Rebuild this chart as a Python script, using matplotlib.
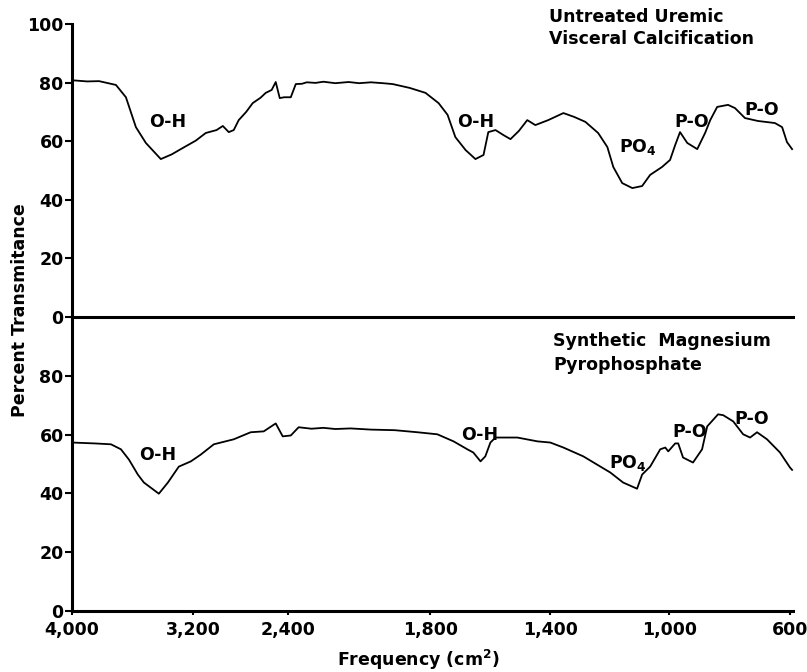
import numpy as np
import matplotlib
matplotlib.use("Agg")
import matplotlib.pyplot as plt

# ---- data ----
wn_top = [4000, 3900, 3821, 3709, 3643, 3577, 3511, 3412, 3340, 3266, 3175, 3091, 3000, 2947,
          2897, 2855, 2813, 2750, 2695, 2630, 2585, 2535, 2501, 2467, 2430, 2387, 2366,
          2340, 2320, 2283, 2250, 2200, 2144, 2100, 2050, 2000, 1959, 1888, 1821, 1773,
          1743, 1717, 1683, 1650, 1623, 1607, 1583, 1555, 1533, 1505, 1477, 1450, 1407,
          1356, 1320, 1282, 1239, 1208, 1188, 1158, 1124, 1091, 1064, 1024, 997, 980,
          964, 940, 907, 881, 864, 841, 805, 782, 749, 706, 650, 626, 610, 593]
tr_top = [80.8, 80.4, 80.5, 79.2, 75.0, 64.8, 59.4, 53.9, 55.5, 57.7, 60.2, 62.8, 63.8, 65.2,
          63.1, 63.8, 67.2, 70.0, 73.0, 74.8, 76.5, 77.5, 80.2, 74.7, 75.0, 75.0, 79.5,
          79.6, 80.1, 79.9, 80.3, 79.8, 80.2, 79.8, 80.1, 79.8, 79.5, 78.2, 76.5, 73.0,
          69.0, 61.4, 57.0, 53.9, 55.3, 63.1, 63.8, 62.0, 60.7, 63.5, 67.2, 65.5, 67.2,
          69.6, 68.3, 66.6, 62.8, 58.0, 51.2, 45.7, 44.0, 44.7, 48.5, 51.2, 53.6, 58.7,
          63.1, 59.4, 57.3, 62.8, 67.2, 71.7, 72.4, 71.3, 67.9, 66.9, 66.2, 64.8, 59.7, 57.3]

wn_bot = [4000, 3850, 3742, 3676, 3623, 3564, 3524, 3425, 3365, 3293, 3213, 3133, 3023, 2855,
          2712, 2602, 2501, 2442, 2387, 2354, 2300, 2250, 2200, 2136, 2050, 1950, 1855,
          1777, 1723, 1677, 1657, 1633, 1617, 1600, 1583, 1510, 1443, 1400, 1356, 1289,
          1198, 1155, 1108, 1091, 1064, 1030, 1013, 1003, 980, 970, 954, 921, 891, 874,
          838, 821, 788, 755, 732, 709, 676, 633, 600, 593]
tr_bot = [57.3, 57.0, 56.7, 55.0, 51.5, 46.4, 43.7, 39.9, 43.7, 49.1, 50.9, 53.2, 56.7, 58.4,
          60.8, 61.1, 63.8, 59.4, 59.7, 62.5, 62.0, 62.3, 61.9, 62.1, 61.7, 61.5, 60.8,
          60.1, 57.7, 55.0, 53.9, 50.9, 52.6, 57.3, 59.0, 59.0, 57.7, 57.3, 55.6, 52.6,
          47.1, 43.7, 41.6, 46.4, 49.1, 55.0, 55.6, 54.3, 57.0, 57.0, 52.2, 50.5, 55.0,
          62.8, 66.9, 66.6, 64.5, 60.1, 59.0, 60.8, 58.4, 53.9, 48.8, 48.0]

labels_top = [("O-H", 3365, 66.5), ("O-H", 1650, 66.5), ("PO$_4$", 1105, 58.0),
              ("P-O", 924, 66.5), ("P-O", 693, 70.6)]
labels_bot = [("O-H", 3431, 53.2), ("O-H", 1637, 60.0), ("PO$_4$", 1138, 50.5),
              ("P-O", 931, 60.8), ("P-O", 726, 65.2)]

xticks = [4000, 3200, 2400, 1800, 1400, 1000, 600]
xticklabels = ["4,000", "3,200", "2,400", "1,800", "1,400", "1,000", "600"]
yticks_top = [0, 20, 40, 60, 80, 100]
yticks_bot = [0, 20, 40, 60, 80]

# chart-paper frequency scale (non-linear, piecewise), increasing with wavenumber
paper_wn = np.array([200, 600, 1000, 1400, 1800, 2400, 3200, 4000, 4400], float)
paper_pos = -np.array([840, 719, 598, 479, 359, 216, 121, 0, -121], float)

def fwd(x):
    return np.interp(x, paper_wn, paper_pos)

def inv(p):
    return np.interp(p, paper_pos, paper_wn)

plt.rcParams['font.family'] = ['DejaVu Sans']
plt.rcParams['font.weight'] = 'bold'
FS = 12.5

fig = plt.figure(figsize=(8.07, 6.72), dpi=100)
left, width = 72 / 807, (793 - 72) / 807
ax_top = fig.add_axes([left, 1 - 317 / 672, width, (317 - 24) / 672])
ax_bot = fig.add_axes([left, 1 - 611 / 672, width, (611 - 317) / 672])

for ax in (ax_top, ax_bot):
    ax.set_xscale('function', functions=(fwd, inv))
    ax.set_xlim(4000, 590)
    ax.set_ylim(0, 100)
    ax.spines['top'].set_visible(False)
    ax.spines['right'].set_visible(False)
    ax.spines['left'].set_linewidth(2.2)
    ax.spines['bottom'].set_linewidth(2.2)
    ax.tick_params(axis='y', direction='out', length=5, width=1.5, labelsize=FS, pad=1)
    ax.patch.set_alpha(0)

ax_top.plot(wn_top, tr_top, color='black', lw=1.3, clip_on=False)
ax_bot.plot(wn_bot, tr_bot, color='black', lw=1.3, clip_on=False)

ax_top.set_yticks(yticks_top)
ax_bot.set_yticks(yticks_bot)
ax_top.set_xticks(xticks)
ax_top.tick_params(axis='x', length=0, labelbottom=False)
ax_bot.set_xticks(xticks)
ax_bot.set_xticklabels(xticklabels)
ax_bot.tick_params(axis='x', direction='out', length=3, width=1.5, labelsize=FS, pad=4)
ax_bot.set_xticks([], minor=True)
ax_top.set_xticks([], minor=True)

for t, x, y in labels_top:
    ax_top.text(x, y, t, ha='center', va='center', fontsize=FS, fontweight='bold')
for t, x, y in labels_bot:
    ax_bot.text(x, y, t, ha='center', va='center', fontsize=FS, fontweight='bold')

fig.text(549 / 807, 1 - 17 / 672, "Untreated Uremic", ha='left', va='center', fontsize=FS, fontweight='bold')
fig.text(549 / 807, 1 - 39 / 672, "Visceral Calcification", ha='left', va='center', fontsize=FS, fontweight='bold')
fig.text(553 / 807, 1 - 341 / 672, "Synthetic  Magnesium", ha='left', va='center', fontsize=FS, fontweight='bold')
fig.text(553 / 807, 1 - 365 / 672, "Pyrophosphate", ha='left', va='center', fontsize=FS, fontweight='bold')

fig.text(418 / 807, 1 - 660 / 672, "Frequency (cm$^{\\mathbf{2}}$)", ha='center', va='center', fontsize=FS, fontweight='bold')
fig.text(20 / 807, 1 - 310 / 672, "Percent Transmitance", ha='center', va='center', rotation=90,
         fontsize=FS, fontweight='bold')

fig.savefig("out.png", dpi=100)
